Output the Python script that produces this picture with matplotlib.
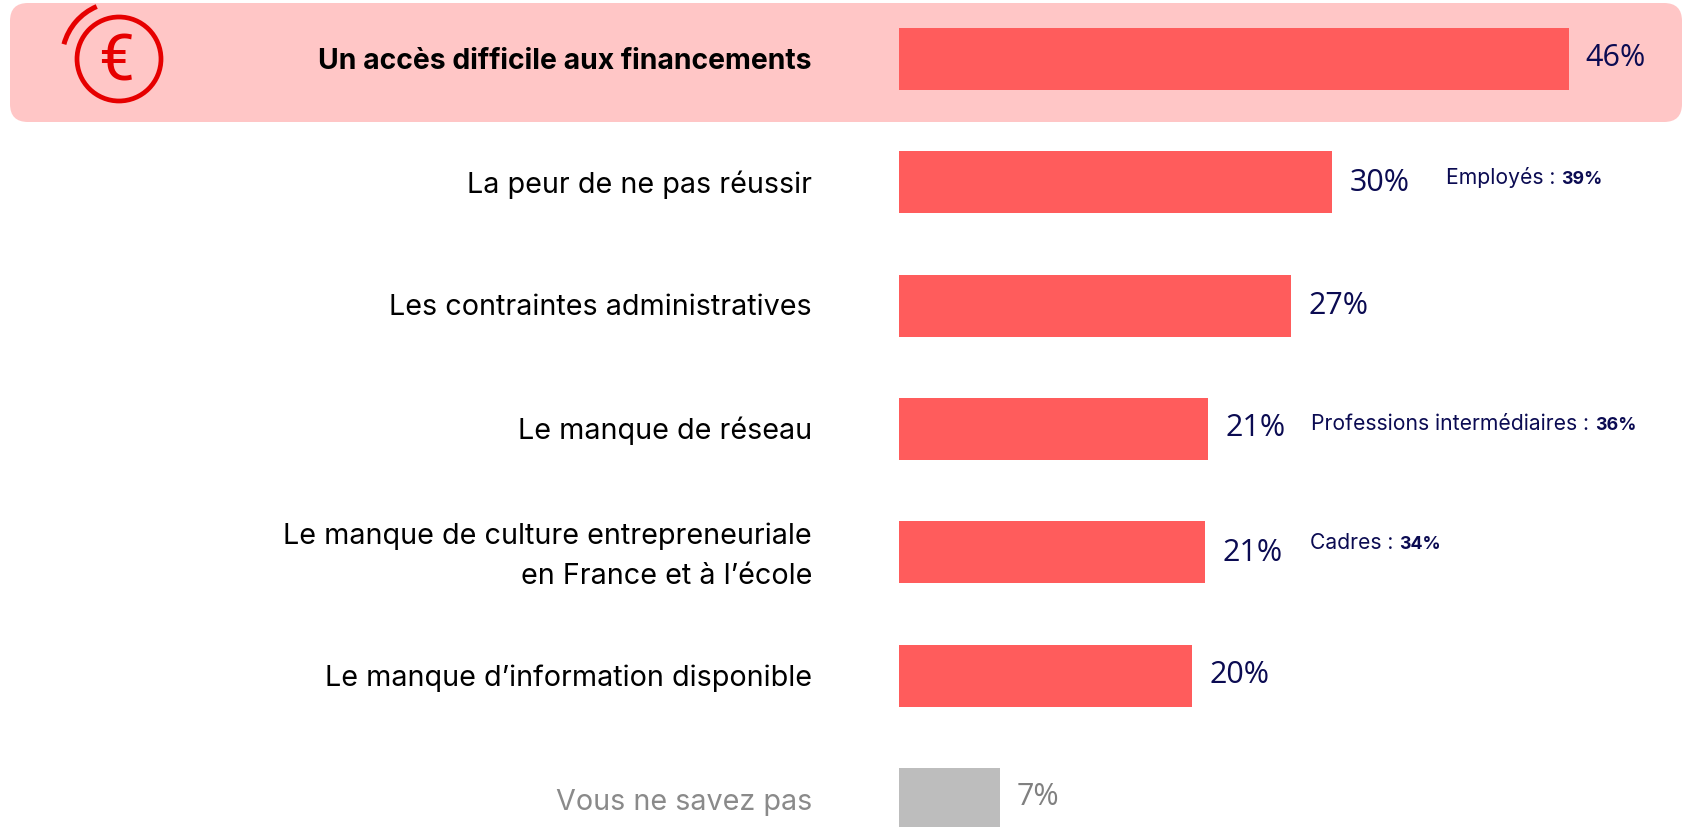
import matplotlib
matplotlib.use("Agg")
import matplotlib.pyplot as plt
from matplotlib.patches import Circle, Arc, FancyBboxPatch
from matplotlib.transforms import Affine2D

categories = ["Un accès difficile aux financements", "La peur de ne pas réussir",
              "Les contraintes administratives", "Le manque de réseau",
              "Le manque de culture entrepreneuriale\nen France et à l’école",
              "Le manque d’information disponible", "Vous ne savez pas"]
values = [45.9, 29.7, 26.9, 21.2, 21.0, 20.1, 6.9]
value_labels = ["46%", "30%", "27%", "21%", "21%", "20%", "7%"]
notes = {1: ("Employés : ", "39%"), 3: ("Professions intermédiaires : ", "36%"), 4: ("Cadres : ", "34%")}

W, H = 1683, 828
RED, GREY, NAVY = "#FF5C5C", "#BDBDBD", "#0B0B52"
FONT = "Inter"

fig = plt.figure(figsize=(W / 100, H / 100), dpi=100, facecolor="white")
px = Affine2D().scale(1, -1).translate(0, H)

X0, UNIT, Y0, STEP = 899, 14.59, 60, 123.3
ax = fig.add_axes([X0 / W, 0, 1 - X0 / W, 1])
ax.set_xlim(0, (W - X0) / UNIT)
ax.set_ylim((H - Y0) / STEP, -Y0 / STEP)
ax.axis("off")

band = FancyBboxPatch((28, 22), 1636, 83, boxstyle="round,pad=18,rounding_size=18", transform=px,
                      fc="#FFC6C6", ec="none", zorder=0)
fig.add_artist(band)

colors = [RED] * 6 + [GREY]
ax.barh(range(len(values)), values, height=62 / STEP, color=colors, zorder=2)

cat_y = [62, 185, 308, 431, 556, 678, 803]
lab_dy = [-2, 0, -1, -2, 0, -1, -3]
for i, (cat, v, lab) in enumerate(zip(categories, values, value_labels)):
    col = "#8A8A8A" if i == 6 else ("black")
    fig.text(812, cat_y[i], cat, transform=px, ha="right", va="center",
             fontsize=20.4 if i == 0 else 20.7,
             family=FONT, color=col, fontweight="bold" if i == 0 else "normal", linespacing=1.62)
    ax.annotate(lab, (v, i), xytext=(17 * 0.72, -lab_dy[i] * 0.72), textcoords="offset points",
                va="center", ha="left", fontsize=22, family="Open Sans",
                color="#808080" if i == 6 else NAVY, zorder=3)

note_pos = {1: (1446, 177), 3: (1311, 423), 4: (1310, 542)}
fig.canvas.draw()
rend = fig.canvas.get_renderer()
for i, (a, b) in notes.items():
    x, y = note_pos[i]
    t = fig.text(x, y + 7, a, transform=px, ha="left", va="baseline", fontsize=15.2, family=FONT, color=NAVY)
    x1 = t.get_window_extent(rend).x1
    fig.text(x1, y + 7, b, transform=px, ha="left", va="baseline", fontsize=12.8, family=FONT,
             fontweight="bold", color=NAVY)

ICON = "#E60000"
fig.add_artist(Circle((119, 60), 42, transform=px, fc="none", ec=ICON, lw=3.4))
fig.add_artist(Arc((119, 60), 114, 114, theta1=-165, theta2=-113, transform=px, ec=ICON, lw=3.6))
fig.text(116, 63, "€", transform=px, ha="center", va="center", fontsize=46, family="Roboto", color=ICON)

fig.savefig("out.png", dpi=100)
